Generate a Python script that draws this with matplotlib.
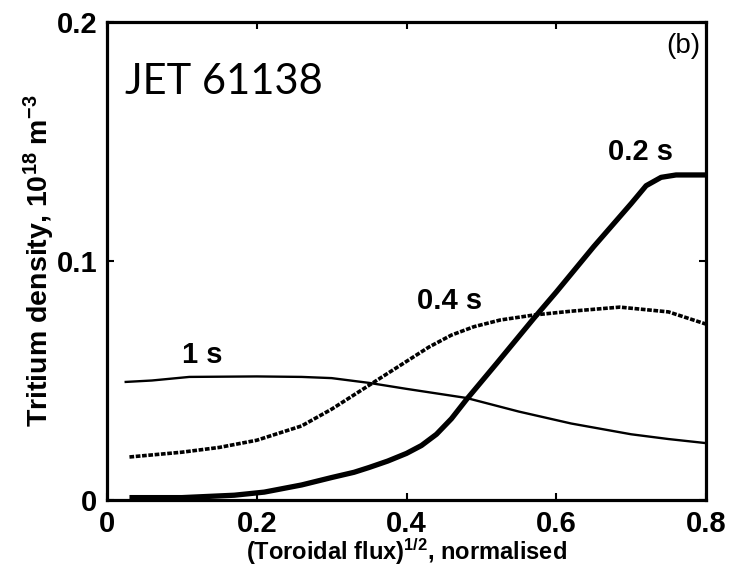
import matplotlib
matplotlib.use("Agg")
import matplotlib.pyplot as plt

plt.rcParams['font.family'] = ['Liberation Sans', 'DejaVu Sans']
plt.rcParams['mathtext.fontset'] = 'custom'
plt.rcParams['mathtext.rm'] = 'Liberation Sans:bold'
plt.rcParams['mathtext.bf'] = 'Liberation Sans:bold'
plt.rcParams['mathtext.default'] = 'bf'

# ---- data ----
x_02 = [0.03, 0.10, 0.17, 0.21, 0.26, 0.30, 0.33, 0.35, 0.375, 0.40, 0.42, 0.44, 0.46, 0.48, 0.50, 0.52,
        0.57, 0.60, 0.65, 0.70, 0.72, 0.74, 0.76, 0.80]
y_02 = [0.001, 0.001, 0.002, 0.0033, 0.0063, 0.0094, 0.0116, 0.0136, 0.0163, 0.0195, 0.0228, 0.0275, 0.034,
        0.042, 0.0495, 0.057, 0.076, 0.087, 0.106, 0.124, 0.1315, 0.1350, 0.136, 0.136]

x_04 = [0.03, 0.10, 0.15, 0.20, 0.26, 0.30, 0.35, 0.395, 0.43, 0.46, 0.49, 0.525, 0.57, 0.62, 0.685, 0.75, 0.80]
y_04 = [0.018, 0.020, 0.022, 0.025, 0.031, 0.038, 0.048, 0.057, 0.064, 0.069, 0.0725, 0.0753, 0.0774, 0.079, 0.0807, 0.0787, 0.0736]

x_1 = [0.025, 0.06, 0.11, 0.20, 0.26, 0.30, 0.35, 0.40, 0.48, 0.55, 0.62, 0.70, 0.75, 0.80]
y_1 = [0.0494, 0.050, 0.0515, 0.0517, 0.0515, 0.051, 0.049, 0.0465, 0.0427, 0.037, 0.032, 0.0275, 0.0255, 0.0238]

curve_labels = ["0.2 s", "0.4 s", "1 s"]
label_pos = [(0.712, 0.1456), (0.457, 0.0833), (0.127, 0.0607)]

x_ticks = [0, 0.2, 0.4, 0.6, 0.8]
x_ticklabels = ["0", "0.2", "0.4", "0.6", "0.8"]
y_ticks = [0, 0.1, 0.2]
y_ticklabels = ["0", "0.1", "0.2"]

fig = plt.figure(figsize=(7.42, 5.70), dpi=100)
ax = fig.add_axes([107/742, 70/570, 599/742, 478/570])

ax.plot(x_02, y_02, color='black', lw=3.8, solid_capstyle='butt', solid_joinstyle='round')
ax.plot(x_04, y_04, color='black', lw=2.6, linestyle=(0, (1.3, 0.45)))
ax.plot(x_1, y_1, color='black', lw=1.7)

for t, (lx, ly) in zip(curve_labels, label_pos):
    ax.text(lx, ly, t, ha='center', va='center', fontsize=21, fontweight='bold')

ax.text(0.024, 0.170, "JET 61138", fontsize=30, family=['Lato', 'DejaVu Sans'],
        ha='left', va='baseline')
ax.text(0.99, 0.978, "(b)", transform=ax.transAxes, fontsize=20, ha='right', va='top')

ax.set_xlim(0, 0.8)
ax.set_ylim(0, 0.2)
ax.set_xticks(x_ticks)
ax.set_xticklabels(x_ticklabels, fontsize=21, fontweight='bold')
ax.set_yticks(y_ticks)
ax.set_yticklabels(y_ticklabels, fontsize=21, fontweight='bold')
ax.tick_params(direction='in', length=5, width=1.5, top=True, right=True, pad=7)

for s in ax.spines.values():
    s.set_linewidth(2.3)

ax.set_xlabel(r"(Toroidal flux)$^{1/2}$, normalised", fontsize=17, fontweight='bold', labelpad=-1)
ax.set_ylabel(r"Tritium density, 10$^{18}$ m$^{-3}$", fontsize=20.5, fontweight='bold', labelpad=0)

fig.savefig("out.png", dpi=100)
